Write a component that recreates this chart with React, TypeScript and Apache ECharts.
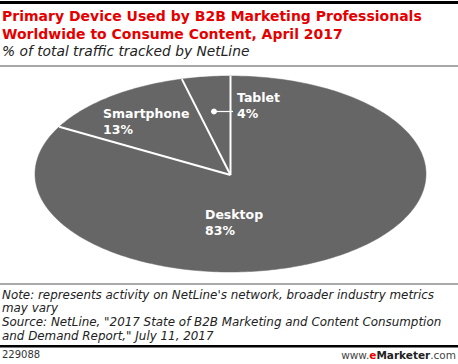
import React, { useEffect, useRef } from "react";
import * as echarts from "echarts";

const categories = ["Tablet", "Smartphone", "Desktop"];
const values = [4, 13, 83];
const valueLabels = ["4%", "13%", "83%"];

const titleLines = [
  "Primary Device Used by B2B Marketing Professionals",
  "Worldwide to Consume Content, April 2017",
];
const subtitle = "% of total traffic tracked by NetLine";
const noteLines = [
  "Note: represents activity on NetLine's network, broader industry metrics",
  "may vary",
  "Source: NetLine, \"2017 State of B2B Marketing and Content Consumption",
  "and Demand Report,\" July 11, 2017",
];
const chartId = "229088";

// layout (pixel positions of the ellipse and labels)
const CX = 230.5;
const CY = 174;
const RX = 195.5;
const RY = 98;
const labelLayout: Record<string, { x: number; y: number; leader?: [number, number, number] }> = {
  Tablet: { x: 237, y: 105.5, leader: [214, 111.5, 233] },
  Smartphone: { x: 103, y: 121.5 },
  Desktop: { x: 205, y: 222.5 },
};

const FONT = "DejaVu Sans";

export default function App() {
  const ref = useRef<HTMLDivElement>(null);
  useEffect(() => {
    document.body.style.margin = "0";
    const chart = echarts.init(ref.current!, null, { renderer: "svg" });
    const total = values.reduce((a, b) => a + b, 0);
    const cum: number[] = [0];
    values.forEach((v) => cum.push(cum[cum.length - 1] + v));

    const pt = (phi: number) => [CX - RX * Math.sin(phi), CY - RY * Math.cos(phi)];

    const renderItem = (params: any, api: any) => {
      const i = params.dataIndex;
      const a0 = (cum[i] / total) * Math.PI * 2;
      const a1 = ((cum[i] + api.value(1)) / total) * Math.PI * 2;
      const n = Math.max(8, Math.ceil(((a1 - a0) / (Math.PI * 2)) * 360));
      const pts: number[][] = [[CX, CY]];
      for (let k = 0; k <= n; k++) pts.push(pt(a0 + ((a1 - a0) * k) / n));
      const name = categories[i];
      const lay = labelLayout[name];
      const s = pt(a0);
      const children: any[] = [
        {
          type: "polygon",
          shape: { points: pts },
          style: { fill: "#666666", stroke: "#666666", lineWidth: 0.5 },
          z2: 1,
        },
        {
          type: "line",
          shape: { x1: CX, y1: CY + 1, x2: s[0], y2: s[1] },
          style: { stroke: "#ffffff", lineWidth: 2 },
          z2: 10,
        },
        {
          type: "text",
          x: lay.x,
          y: lay.y,
          style: {
            text: name + "\n" + valueLabels[i],
            fill: "#ffffff",
            font: `bold 12.5px "${FONT}"`,
            lineHeight: 15.5,
            align: "left",
            verticalAlign: "middle",
          },
          z2: 20,
        },
      ];
      if (lay.leader) {
        const [lx, ly, lx2] = lay.leader;
        children.push(
          {
            type: "circle",
            shape: { cx: lx, cy: ly, r: 3 },
            style: { fill: "#ffffff" },
            z2: 20,
          },
          {
            type: "line",
            shape: { x1: lx, y1: ly, x2: lx2, y2: ly },
            style: { stroke: "#ffffff", lineWidth: 1.2 },
            z2: 20,
          }
        );
      }
      return { type: "group", children };
    };

    const graphic: any[] = [
      { type: "rect", shape: { x: 0, y: 1, width: 458, height: 3 }, style: { fill: "#000" } },
      { type: "rect", shape: { x: 0, y: 65, width: 458, height: 2 }, style: { fill: "#a8a8a8" } },
      { type: "rect", shape: { x: 0, y: 283.5, width: 458, height: 1 }, style: { fill: "#555" } },
      { type: "rect", shape: { x: 0, y: 345, width: 458, height: 2.5 }, style: { fill: "#000" } },
    ];
    titleLines.forEach((t, k) => {
      graphic.push({
        type: "text",
        left: 2,
        top: 9 + k * 17.5,
        style: { text: t, fill: "#e50000", font: `bold 14px "${FONT}"` },
      });
    });
    graphic.push({
      type: "text",
      left: 2,
      top: 44,
      style: { text: subtitle, fill: "#222", font: `italic 13.8px "${FONT}"` },
    });
    noteLines.forEach((t, k) => {
      graphic.push({
        type: "text",
        left: 2,
        top: 288.5 + k * 13.7,
        style: { text: t, fill: "#222", font: `italic 11.9px "${FONT}"` },
      });
    });
    graphic.push({
      type: "text",
      left: 2,
      top: 349,
      style: { text: chartId, fill: "#333", font: `10px "${FONT}"` },
    });
    graphic.push({
      type: "text",
      right: 2,
      top: 349,
      style: {
        text: "{a|www.}{b|e}{c|Marketer}{a|.com}",
        rich: {
          a: { fill: "#444", font: `10.5px "${FONT}"` },
          b: { fill: "#e50000", font: `bold 10.5px "${FONT}"` },
          c: { fill: "#222", font: `bold 10.5px "${FONT}"` },
        },
      },
    });

    chart.setOption({
      animation: false,
      backgroundColor: "#ffffff",
      graphic,
      series: [
        {
          type: "custom",
          coordinateSystem: "none",
          renderItem,
          data: categories.map((c, i) => [i, values[i]]),
        },
      ],
    });
    return () => chart.dispose();
  }, []);
  return <div ref={ref} style={{ width: 458, height: 364 }} />;
}
